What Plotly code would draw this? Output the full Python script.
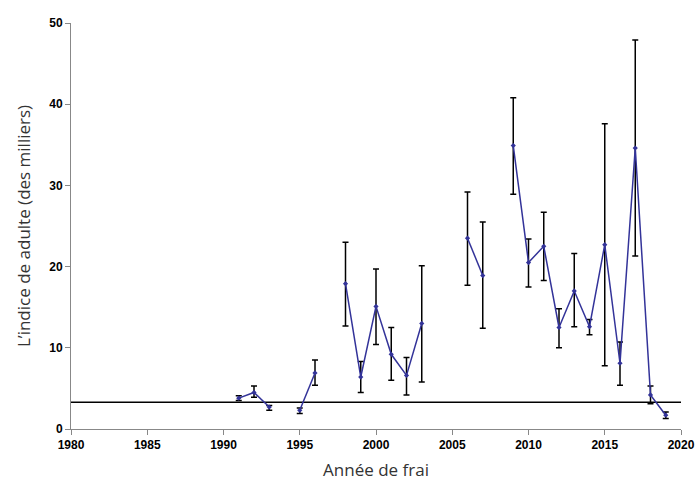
import plotly.graph_objects as go

years = list(range(1991, 2020))
values = {
    1991: 3.8, 1992: 4.5, 1993: 2.7, 1995: 2.3, 1996: 6.9,
    1998: 17.9, 1999: 6.4, 2000: 15.1, 2001: 9.2, 2002: 6.6, 2003: 13.0,
    2006: 23.5, 2007: 18.9, 2009: 34.9, 2010: 20.5, 2011: 22.5, 2012: 12.5,
    2013: 17.0, 2014: 12.6, 2015: 22.7, 2016: 8.1, 2017: 34.6, 2018: 4.2, 2019: 1.7,
}
upper = {
    1991: 4.1, 1992: 5.3, 1993: 2.9, 1995: 2.6, 1996: 8.5,
    1998: 23.0, 1999: 8.3, 2000: 19.7, 2001: 12.5, 2002: 8.8, 2003: 20.1,
    2006: 29.2, 2007: 25.5, 2009: 40.8, 2010: 23.4, 2011: 26.7, 2012: 14.8,
    2013: 21.6, 2014: 13.5, 2015: 37.6, 2016: 10.7, 2017: 47.9, 2018: 5.3, 2019: 2.1,
}
lower = {
    1991: 3.5, 1992: 3.9, 1993: 2.3, 1995: 1.9, 1996: 5.4,
    1998: 12.7, 1999: 4.5, 2000: 10.4, 2001: 6.0, 2002: 4.2, 2003: 5.8,
    2006: 17.7, 2007: 12.4, 2009: 28.9, 2010: 17.5, 2011: 18.3, 2012: 10.0,
    2013: 12.6, 2014: 11.6, 2015: 7.8, 2016: 5.4, 2017: 21.3, 2018: 3.1, 2019: 1.3,
}
reference_level = 3.3
x_range = [1980, 2020]
y_range = [0, 50]

y = [values.get(yr) for yr in years]
err_plus = [(upper[yr] - values[yr]) if yr in values else None for yr in years]
err_minus = [(values[yr] - lower[yr]) if yr in values else None for yr in years]

fig = go.Figure()
fig.add_trace(go.Scatter(
    x=years, y=y, mode="markers",
    marker=dict(size=1, color="rgba(0,0,0,0)"),
    error_y=dict(type="data", array=err_plus, arrayminus=err_minus,
                 color="black", thickness=1.5, width=3),
    showlegend=False, hoverinfo="skip",
))
fig.add_trace(go.Scatter(
    x=x_range, y=[reference_level, reference_level], mode="lines",
    line=dict(color="black", width=1.5), showlegend=False,
))
fig.add_trace(go.Scatter(
    x=years, y=y, mode="lines+markers", connectgaps=False,
    line=dict(color="#333399", width=1.5),
    marker=dict(symbol="diamond", size=4, color="#333399"),
    showlegend=False,
))

tickfont = dict(family="Liberation Sans, Arial", size=12, color="black", weight="bold")
fig.update_layout(
    width=696, height=484,
    margin=dict(l=71, r=15, t=23, b=55),
    plot_bgcolor="white", paper_bgcolor="white",
    xaxis=dict(range=x_range, tickvals=list(range(1980, 2021, 5)), showgrid=False,
               zeroline=False, showline=True, linecolor="#888", linewidth=1,
               ticks="outside", ticklen=5, tickcolor="#888", tickfont=tickfont,
               automargin=False,
               title=dict(text="Année de frai", font=dict(family="Open Sans", size=17, color="#333"),
                          standoff=12)),
    yaxis=dict(range=y_range, tickvals=list(range(0, 51, 10)), showgrid=False,
               zeroline=False, showline=True, linecolor="#888", linewidth=1,
               ticks="outside", ticklen=5, tickcolor="#888", tickfont=tickfont,
               automargin=False,
               title=dict(text="L’indice de adulte (des milliers)",
                          font=dict(family="Open Sans", size=17, color="#333"), standoff=14)),
)
fig.write_html("out.html")
